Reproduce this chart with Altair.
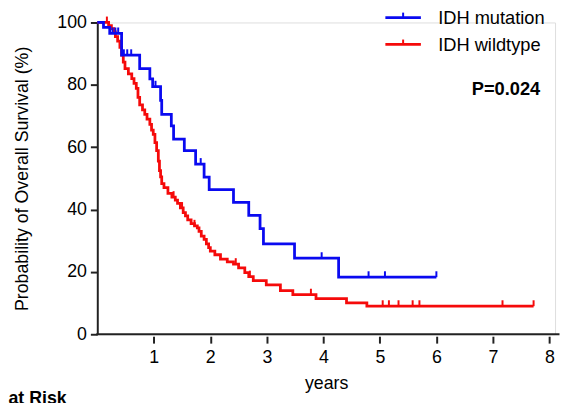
import altair as alt
import pandas as pd

# ---- data ----
blue_t = [0.00, 0.11, 0.22, 0.43, 0.75, 0.93, 0.98, 1.12, 1.14, 1.31, 1.35, 1.54, 1.74,
          1.89, 1.98, 2.41, 2.68, 2.88, 2.94, 3.49, 4.27, 6.00]
blue_s = [100, 98.4, 96.5, 89.5, 85.2, 81.9, 79.4, 75.0, 70.5, 66.8, 62.6, 58.9, 54.6,
          50.4, 46.4, 42.3, 38.1, 33.9, 29.0, 24.4, 18.3, 18.3]
blue_censor_t = [0.27, 0.32, 0.37, 0.47, 0.53, 0.60, 1.03, 1.83, 3.97, 4.80, 5.09, 6.00]

red_t = [0.00, 0.20, 0.25, 0.29, 0.32, 0.36, 0.40, 0.43, 0.46, 0.49, 0.55, 0.61, 0.65,
         0.69, 0.72, 0.75, 0.80, 0.84, 0.88, 0.93, 0.96, 0.99, 1.02, 1.05, 1.08, 1.10,
         1.12, 1.14, 1.18, 1.25, 1.32, 1.38, 1.42, 1.47, 1.52, 1.56, 1.60, 1.66, 1.72,
         1.77, 1.80, 1.84, 1.89, 1.93, 1.97, 2.00, 2.08, 2.18, 2.30, 2.41, 2.50, 2.61,
         2.68, 2.76, 2.99, 3.24, 3.46, 3.87, 4.41, 4.77, 7.72]
red_s = [100, 99.0, 98.0, 97.0, 95.5, 94.0, 92.0, 89.5, 87.3, 85.2, 83.5, 82.0, 80.5,
         78.9, 76.0, 73.6, 72.0, 70.5, 69.0, 67.3, 65.5, 64.1, 61.5, 58.9, 55.5, 52.5,
         50.5, 48.3, 47.0, 45.2, 44.0, 43.0, 42.0, 40.5, 39.0, 38.0, 36.7, 35.5, 34.8,
         34.1, 33.0, 31.5, 30.4, 29.0, 27.8, 26.7, 25.5, 24.1, 23.2, 22.5, 21.3, 19.8,
         18.5, 17.2, 15.8, 14.0, 12.7, 11.4, 10.1, 9.0, 9.0]
red_censor_t = [0.17, 1.35, 1.50, 1.72, 2.45, 2.70, 3.78, 5.05, 5.16, 5.33, 5.58, 5.70,
                7.17, 7.72]

x_ticks = [1, 2, 3, 4, 5, 6, 7, 8]
y_ticks = [0, 10, 20, 30, 40, 50, 60, 70, 80, 90, 100]

BLUE = "#0a0af0"
RED = "#f50a0a"
AX = "#222222"
FONT = "Liberation Sans"
W, H = 464, 316


def step_value(ts, ss, c):
    v = ss[0]
    for t, s in zip(ts, ss):
        if t <= c:
            v = s
    return v


blue_df = pd.DataFrame({"t": blue_t, "s": blue_s})
red_df = pd.DataFrame({"t": red_t, "s": red_s})
blue_c = pd.DataFrame({"t": blue_censor_t,
                       "s": [step_value(blue_t, blue_s, c) for c in blue_censor_t]})
red_c = pd.DataFrame({"t": red_censor_t,
                      "s": [step_value(red_t, red_s, c) for c in red_censor_t]})

xscale = alt.Scale(domain=[0, 8.1], nice=False, zero=False)
yscale = alt.Scale(domain=[0, 100], nice=False)

xaxis = alt.Axis(values=x_ticks, format="d", title="years", grid=False, domain=False,
                 offset=2, tickSize=7, tickWidth=2, tickColor=AX, labelFontSize=18,
                 labelFont=FONT, labelColor="black", labelPadding=6, titleFontSize=18,
                 titleFont=FONT, titleFontWeight="normal", titleColor="black",
                 titlePadding=8, labelFlush=False)
yaxis = alt.Axis(values=y_ticks, labelExpr="datum.value % 20 == 0 ? datum.label : ''",
                 title="Probability of Overall Survival (%)", grid=False,
                 domainColor=AX, domainWidth=2, tickSize=7, tickWidth=2, tickColor=AX,
                 labelFontSize=18, labelFont=FONT, labelColor="black", labelPadding=4,
                 titleFontSize=18, titleFont=FONT, titleFontWeight="normal",
                 titleColor="black", titlePadding=26)

X = alt.X("t:Q", scale=xscale, axis=xaxis)
Y = alt.Y("s:Q", scale=yscale, axis=yaxis)
Xn = alt.X("t:Q", scale=xscale)
Yn = alt.Y("s:Q", scale=yscale)

red_line = alt.Chart(red_df).mark_line(interpolate="step-after", color=RED,
                                       strokeWidth=2.8).encode(x=X, y=Y)
red_cens = alt.Chart(red_c).mark_point(shape="M0,-1L0,0", filled=False, size=144,
                                       strokeWidth=2, color=RED, opacity=1).encode(x=Xn, y=Yn)
blue_line = alt.Chart(blue_df).mark_line(interpolate="step-after", color=BLUE,
                                         strokeWidth=2.8).encode(x=Xn, y=Yn)
blue_cens = alt.Chart(blue_c).mark_point(shape="M0,-1L0,0", filled=False, size=144,
                                         strokeWidth=2, color=BLUE, opacity=1).encode(x=Xn, y=Yn)

one = pd.DataFrame({"a": [0]})
x_base = alt.Chart(one).mark_rule(color=AX, strokeWidth=2).encode(
    x=alt.value(-1), x2=alt.value(468.5), y=alt.value(H))

# legend
leg_items = [("IDH mutation", BLUE, -5), ("IDH wildtype", RED, 22.3)]
legend_layers = []
for label, col, yy in leg_items:
    legend_layers.append(alt.Chart(one).mark_rule(color=col, strokeWidth=2.8).encode(
        x=alt.value(292), x2=alt.value(328), y=alt.value(yy)))
    legend_layers.append(alt.Chart(one).mark_rule(color=col, strokeWidth=2).encode(
        x=alt.value(310), y=alt.value(yy - 5), y2=alt.value(yy)))
    legend_layers.append(alt.Chart(one).mark_text(
        text=label, align="left", baseline="middle", fontSize=18.5, font=FONT,
        color="black").encode(x=alt.value(345.5), y=alt.value(yy + 0.5)))

pval = alt.Chart(one).mark_text(text="P=0.024", align="right", baseline="middle",
                                fontSize=18.5, font=FONT, fontWeight="bold",
                                color="black").encode(x=alt.value(449), y=alt.value(67))
risk = alt.Chart(one).mark_text(text="at Risk", align="left", baseline="alphabetic",
                                fontSize=18, font=FONT, fontWeight="bold",
                                color="black").encode(x=alt.value(-90), y=alt.value(387))

chart = alt.layer(red_line, red_cens, blue_line, blue_cens, x_base, pval, risk,
                  *legend_layers).properties(
    width=W, height=H,
    padding={"left": 90.5, "top": 12, "right": 5, "bottom": 67},
    autosize=alt.AutoSizeParams(type="none"),
).configure_view(stroke=None).configure(font=FONT, background="white")

chart.save("out.html", embed_options={"renderer": "svg", "actions": False})
